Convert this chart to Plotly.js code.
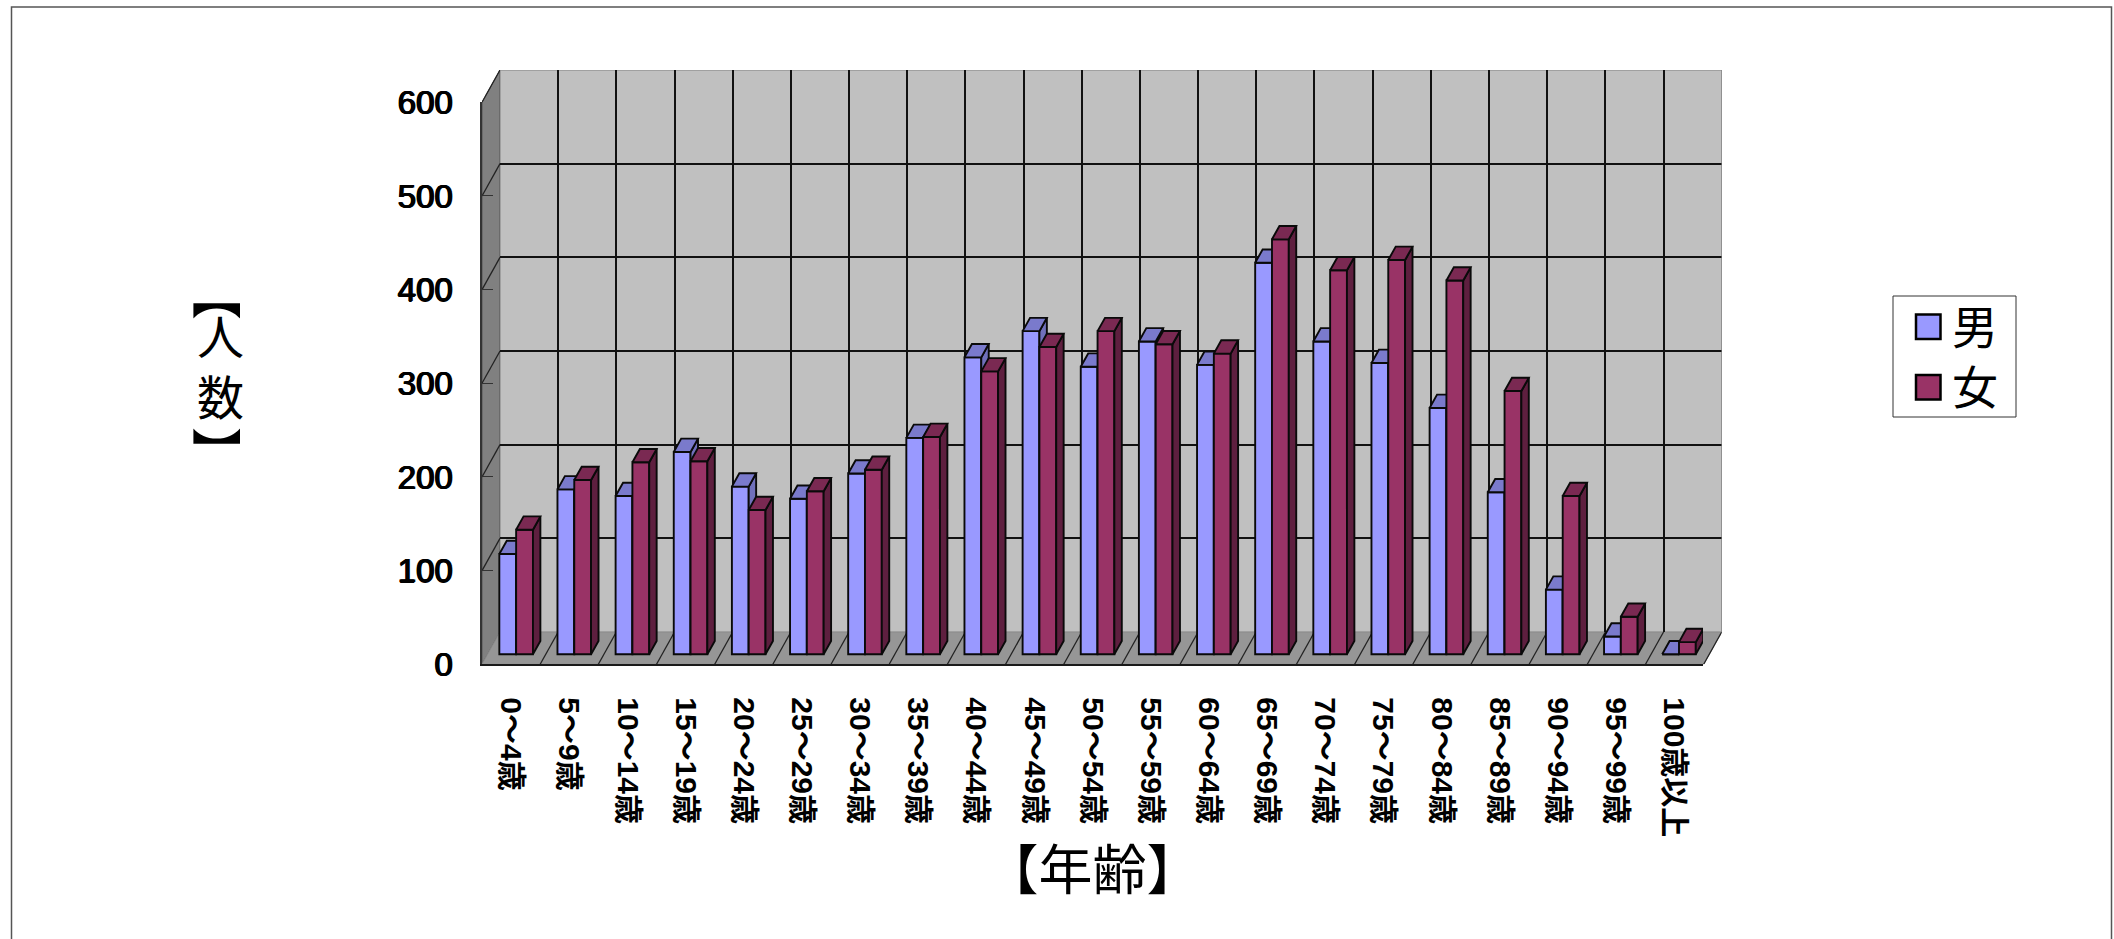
<!DOCTYPE html>
<html><head><meta charset="utf-8">
<script src="https://cdn.plot.ly/plotly-3.0.1.min.js"></script>
<style>html,body{margin:0;padding:0;background:#fff}</style>
</head><body><div id="chart" style="width:2114px;height:939px"></div>
<script>
const categories = ["0～4歳","5～9歳","10～14歳","15～19歳","20～24歳","25～29歳","30～34歳","35～39歳","40～44歳","45～49歳","50～54歳","55～59歳","60～64歳","65～69歳","70～74歳","75～79歳","80～84歳","85～89歳","90～94歳","95～99歳","100歳以上"];
const male   = [107,176,169,216,179,166,193,231,317,345,307,334,309,418,334,311,263,173,69,19,0];
const female = [133,186,205,206,154,174,197,232,302,328,345,331,321,443,410,421,399,281,169,40,13];
const yTicks = [0,100,200,300,400,500,600];
const maleName = "男", femaleName = "女";

const W = 2114, H = 939;
const px = x => x / W, py = y => 1 - y / H;
// plot geometry (pixels)
const FL = 482, FR = 1703, FT = 102.3, FB = 664.3;   // front plane
const BL = 500, BR = 1721.7, BT = 70, BB = 632;      // back plane
const unitX = (FR - FL) / 21, unitY = (FB - FT) / 600;
const depthX = (BL - FL) / unitX, depthY = (FB - BB) / unitY;
const barOff = [0.298, 0.587], barW = 0.289;
const barBase = 10.7, barDX = 0.128, barDY = 14.2;

const idx = categories.map((_, i) => i);
function poly(fn, vals) {
  const xs = [], ys = [];
  vals.forEach((v, i) => { fn(i, v).forEach(p => { xs.push(p[0]); ys.push(p[1]); }); xs.push(null); ys.push(null); });
  return {x: xs, y: ys};
}
function faces(vals, off, front, top, side, xa, ya, name) {
  const topF = poly((i, v) => { const l = i + off, r = l + barW, t = barBase + v;
    return [[l,t],[r,t],[r+barDX,t+barDY],[l+barDX,t+barDY],[l,t]]; }, vals);
  const sideF = poly((i, v) => { const r = i + off + barW, t = barBase + v;
    return [[r,barBase],[r,t],[r+barDX,t+barDY],[r+barDX,barBase+barDY],[r,barBase]]; }, vals);
  const edge = {color:'#0a0a0a', width:1.9};
  return [
    {type:'bar', name:name, x:idx, y:vals, base:barBase, offset:off, width:barW, xaxis:xa, yaxis:ya, showlegend:false,
     marker:{color:front, line:edge}, hovertemplate:'%{customdata}: %{y}<extra>'+name+'</extra>', customdata:categories},
    {type:'scatter', mode:'lines', x:sideF.x, y:sideF.y, fill:'toself', fillcolor:side, line:edge, xaxis:xa, yaxis:ya, showlegend:false, hoverinfo:'skip', cliponaxis:false},
    {type:'scatter', mode:'lines', x:topF.x, y:topF.y, fill:'toself', fillcolor:top, line:edge, xaxis:xa, yaxis:ya, showlegend:false, hoverinfo:'skip', cliponaxis:false}
  ];
}

// room subplot: back plane units, negative depth reaches the front plane
const leftWall = {type:'scatter', mode:'lines', x:[0,-depthX,-depthX,0,0], y:[0,-depthY,600-depthY,600,0], fill:'toself', fillcolor:'#808080',
  line:{color:'#555',width:1}, showlegend:false, hoverinfo:'skip'};
const floor = {type:'scatter', mode:'lines', x:[-depthX,21-depthX,21,0,-depthX], y:[-depthY,-depthY,0,0,-depthY], fill:'toself', fillcolor:'#969696',
  line:{color:'#8a8a8a',width:1}, showlegend:false, hoverinfo:'skip'};
const wallGrid = (() => { const xs=[], ys=[]; yTicks.slice(1).forEach(t => { xs.push(0,-depthX,null); ys.push(t,t-depthY,null); }); return {type:'scatter',mode:'lines',x:xs,y:ys,line:{color:'#222',width:1.3},showlegend:false,hoverinfo:'skip'}; })();
const floorGrid = (() => { const xs=[], ys=[]; idx.slice(1).concat([21]).forEach(k => { xs.push(k-depthX,k,null); ys.push(-depthY,0,null); }); return {type:'scatter',mode:'lines',x:xs,y:ys,line:{color:'#222',width:1.3},showlegend:false,hoverinfo:'skip'}; })();
// right edge of the back wall; also makes the back-grid subplot exist
const rightEdge = {type:'scatter', mode:'lines', x:[21,21], y:[0,600], line:{color:'#808080',width:1.2}, xaxis:'x2', yaxis:'y2', showlegend:false, hoverinfo:'skip', cliponaxis:false};

const data = [leftWall, floor, wallGrid, floorGrid, rightEdge]
  .concat(faces(male, barOff[0], '#9999FF', '#7A7ACC', '#7070BB', 'x3', 'y3', maleName))
  .concat(faces(female, barOff[1], '#993366', '#7A2952', '#5E1F3F', 'x4', 'y4', femaleName));

const fontAll = "'Liberation Sans','Noto Sans CJK JP',sans-serif";
const fontCJK = "'Noto Sans CJK JP',sans-serif";
const rect = (x0,y0,x1,y1,fill,line,w) => ({type:'rect',xref:'paper',yref:'paper',x0:px(x0),x1:px(x1),y0:py(y0),y1:py(y1),fillcolor:fill,line:{color:line,width:w}});
const note = (t,x,y,size,angle) => ({text:t,xref:'paper',yref:'paper',x:px(x),y:py(y),xanchor:'center',yanchor:'middle',showarrow:false,textangle:angle||0,font:{family:fontCJK,size:size,color:'#000'}});

const layout = {
  width:W, height:H, autosize:false, margin:{l:0,r:0,t:0,b:0,pad:0},
  paper_bgcolor:'#fff', plot_bgcolor:'rgba(0,0,0,0)', showlegend:false, barmode:'overlay',
  // room (walls and floor)
  xaxis:{domain:[px(FL),px(BR)], range:[-depthX,21], visible:false, anchor:'y', fixedrange:true},
  yaxis:{domain:[py(FB),py(BT)], range:[-depthY,600], visible:false, anchor:'x', fixedrange:true},
  // back wall grid
  xaxis2:{domain:[px(BL),px(BR)], range:[0,21], tickvals:idx.slice(1), showticklabels:false, ticks:'', showgrid:true, gridcolor:'#111', gridwidth:1.5, zeroline:false, anchor:'y2', fixedrange:true},
  yaxis2:{domain:[py(BB),py(BT)], range:[0,600], tickvals:yTicks.slice(1), showticklabels:false, ticks:'', showgrid:true, gridcolor:'#111', gridwidth:1.5, zeroline:false, anchor:'x2', fixedrange:true},
  // front plane with the labelled axes
  xaxis3:{domain:[px(FL),px(FR)], range:[0,21], anchor:'y3', tickmode:'array', tickvals:idx.map(i=>i+0.5), ticktext:categories, tickangle:90, ticks:'', showgrid:false, zeroline:false,
    showline:true, linecolor:'#1a1a1a', linewidth:2, ticklabelstandoff:25, tickfont:{family:fontAll,size:30,color:'#000',weight:'bold'},
    title:{text:'【年齢】', font:{family:fontCJK,size:54,color:'#000'}, standoff:16}, fixedrange:true},
  yaxis3:{domain:[py(FB),py(FT)], range:[0,600], anchor:'x3', tickmode:'array', tickvals:yTicks, ticktext:yTicks.map(String), ticks:'inside', ticklen:11, tickcolor:'#333', tickwidth:1,
    showgrid:false, zeroline:false, showline:true, linecolor:'#333', linewidth:1.5, ticklabelstandoff:21, tickfont:{family:fontAll,size:33,color:'#000',shadow:'1px 0 0 #000, -0.6px 0 0 #000, 0 0.6px 0 #000'}, fixedrange:true},
  xaxis4:{domain:[px(FL),px(FR)], range:[0,21], anchor:'y4', visible:false, fixedrange:true},
  yaxis4:{domain:[py(FB),py(FT)], range:[0,600], anchor:'x4', visible:false, fixedrange:true},
  shapes:[
    {type:'rect',xref:'x2',yref:'y2',x0:0,x1:21,y0:0,y1:600,fillcolor:'#C0C0C0',line:{color:'#808080',width:1},layer:'below'},
    {type:'rect',xref:'paper',yref:'paper',x0:px(11.5),x1:px(2111.5),y0:py(1000),y1:py(7),fillcolor:'rgba(0,0,0,0)',line:{color:'#555',width:1.5},layer:'below'},
    rect(1893,296,2016,417,'#fff','#333',1),
    rect(1916,314.5,1940.5,339,'#9999FF','#000',2.5),
    rect(1916,375,1940.5,399.5,'#993366','#000',2.5)
  ],
  annotations:[
    note(maleName+'<br>'+femaleName,1975,354,46),
    note('【',220,295,50,90), note('人<br>数',220,364,47), note('】',220,452,50,90)
  ]
};
Plotly.newPlot('chart', data, layout, {displayModeBar:false, responsive:false});
</script></body></html>
